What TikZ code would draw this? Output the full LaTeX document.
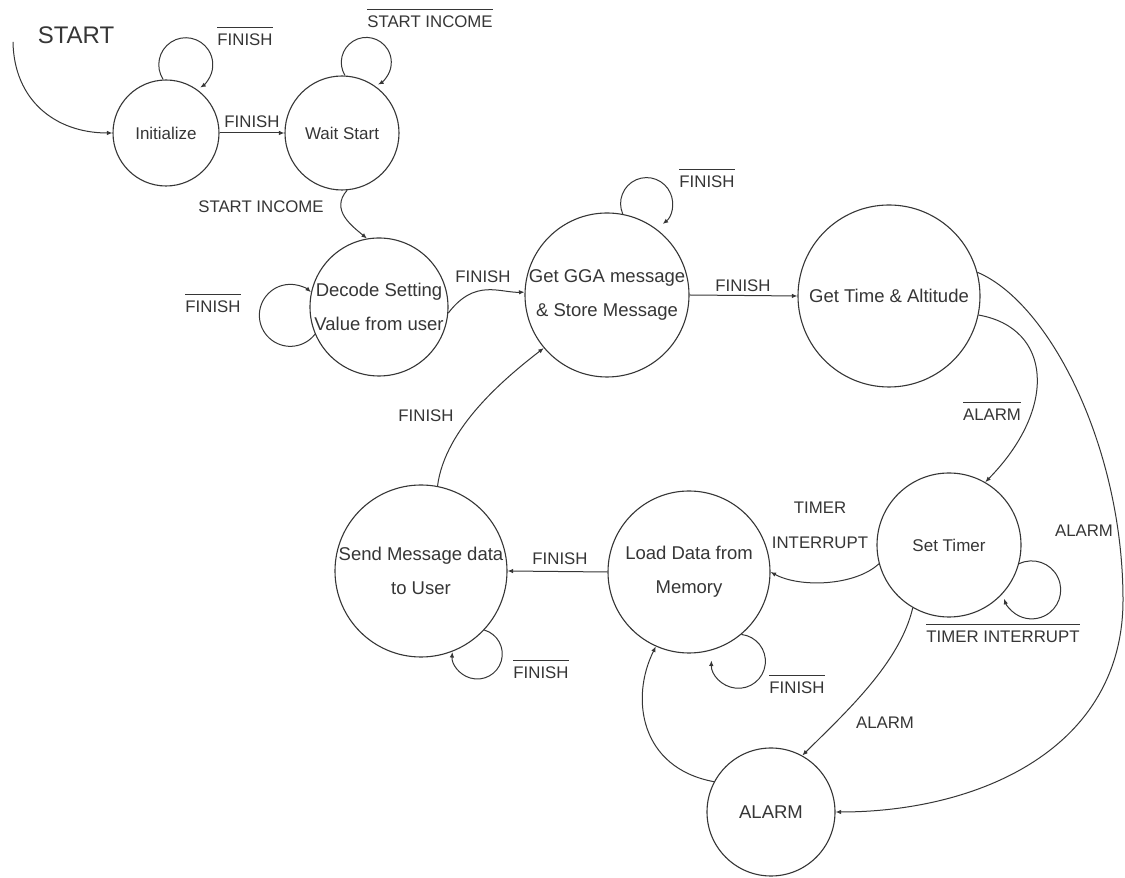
\documentclass[tikz,border=0pt]{standalone}
\usepackage{fontspec}
\setmainfont{Liberation Sans}
\usetikzlibrary{arrows.meta}
\definecolor{ink}{HTML}{363636}
% text with a bar over it (negated condition)
\newsavebox\negbox
\newcommand{\neglabel}[1]{\sbox\negbox{#1}\rlap{\smash{\rule[1.05em]{\wd\negbox}{0.9pt}}}\usebox\negbox}

\begin{document}
\begin{tikzpicture}[x=1pt,y=1pt,
  state/.style={circle,draw=ink,line width=1.1pt,inner sep=0pt,align=center,
                text=ink,font=\fontsize{17}{34}\selectfont},
  bigtext/.style={font=\fontsize{18.5}{34}\selectfont},
  lbl/.style={text=ink,inner sep=0pt,align=center,font=\fontsize{16.8}{35}\selectfont},
  arr/.style={draw=ink,line width=1pt,-{Latex[length=5.5pt,width=4.5pt]}},
  ]
\fill[white] (0,0) rectangle (1125,878);
\useasboundingbox (0,0) rectangle (1125,878);

% states
\node[state,minimum size=106pt] (init)   at (166,745) {Initialize};
\node[state,minimum size=114pt] (wait)   at (342,745) {Wait Start};
\node[state,bigtext,minimum size=138pt] (decode) at (379,571) {Decode Setting\\Value from user};
\node[state,bigtext,minimum size=164pt] (gga)    at (607,583) {Get GGA message\\\& Store Message};
\node[state,bigtext,minimum size=182pt] (time)   at (889,582) {Get Time \& Altitude};
\node[state,minimum size=144pt] (timer)  at (949,333) {Set Timer};
\node[state,bigtext,minimum size=162pt] (load)   at (689,306) {Load Data from\\Memory};
\node[state,bigtext,minimum size=172pt] (send)   at (421,307) {Send Message data\\to User};
\node[state,bigtext,minimum size=128pt] (alarm)  at (771,66)  {ALARM};

% entry
\node[lbl,font=\fontsize{24}{28}\selectfont] (start) at (76,843) {START};
\coordinate (s0) at (13,836);
\draw[arr] (s0) .. controls (14,778) and (55,745) .. (init.west);

% transitions
\draw[arr] (init.east) -- (wait.west);
\draw[arr] (wait.-85) .. controls (330,668) and (352,652) .. (decode.100);
\draw[arr] (decode.-5) .. controls (475,600) and (500,585) .. (gga.178);
\draw[arr] (gga.east) -- (time.west);
\draw[arr] (time.-12) .. controls (1052,550) and (1058,470) .. (timer.60);
\draw[arr] (time.15) .. controls (1050,575) and (1123,430) .. (1123,278)
                     .. controls (1123,130) and (980,66) .. (alarm.east);
\draw[arr] (timer.195) .. controls (855,292) and (800,290) .. (load.east);
\draw[arr] (timer.240) .. controls (900,215) and (845,165) .. (alarm.61);
\draw[arr] (load.west) -- (send.east);
\draw[arr] (alarm.152) .. controls (640,110) and (630,180) .. (load.246);
\draw[arr] (send.79) .. controls (445,450) and (505,500) .. (gga.220);

% self loops: round arcs leaving and re-entering the state's border
\draw[arr] (init.93)    arc[start angle=213.2, delta angle=-270.9, radius=27];
\draw[arr] (wait.87)    arc[start angle=211.6, delta angle=-273.7, radius=25];
\draw[arr] (gga.79)     arc[start angle=203.5, delta angle=-255.2, radius=26];
\draw[arr] (decode.203) arc[start angle=-37.4, delta angle=-274.2, radius=31];
\draw[arr] (timer.-15)  arc[start angle=115.8, delta angle=-277.9, radius=29];
\draw[arr] (load.-50)   arc[start angle=83.6,  delta angle=-265.3, radius=27];
\draw[arr] (send.-43)   arc[start angle=73.7,  delta angle=-258.3, radius=25];

% transition labels
\node[lbl] (l1)  at (245,838) {\neglabel{FINISH}};
\node[lbl] (l2)  at (252,756) {FINISH};
\node[lbl] (l3)  at (430,856) {\neglabel{START INCOME}};
\node[lbl] (l4)  at (261,671) {START INCOME};
\node[lbl] (l5)  at (213,571) {\neglabel{FINISH}};
\node[lbl] (l6)  at (483,601) {FINISH};
\node[lbl] (l7)  at (707,696) {\neglabel{FINISH}};
\node[lbl] (l8)  at (743,592) {FINISH};
\node[lbl] (l9)  at (992,463) {\neglabel{ALARM}};
\node[lbl] (l10) at (1084,347) {ALARM};
\node[lbl] (l11) at (820,353) {TIMER\\INTERRUPT};
\node[lbl] (l12) at (1003,241) {\neglabel{TIMER INTERRUPT}};
\node[lbl] (l13) at (885,155) {ALARM};
\node[lbl] (l14) at (560,319) {FINISH};
\node[lbl] (l15) at (797,190) {\neglabel{FINISH}};
\node[lbl] (l16) at (541,205) {\neglabel{FINISH}};
\node[lbl] (l17) at (426,462) {FINISH};
\end{tikzpicture}
\end{document}
